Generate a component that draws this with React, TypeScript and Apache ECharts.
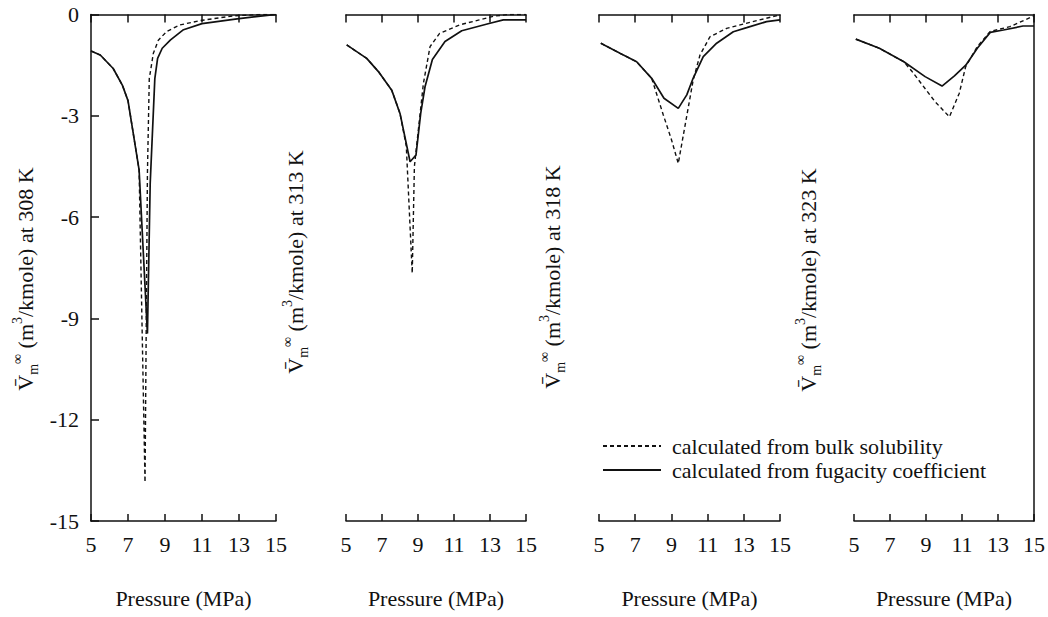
import React, { useEffect, useRef } from "react";
import * as echarts from "echarts";

// ---- data ----
const pressureTicks = [5, 7, 9, 11, 13, 15];
const volumeTicks = [0, -3, -6, -9, -12, -15];
const temperatures = ["308", "313", "318", "323"];
const seriesNames = [
  "calculated from bulk solubility",
  "calculated from fugacity coefficient",
];

// 308 K
const bulk308 = [
  [5, -1.08], [5.5, -1.2], [6.2, -1.6], [6.7, -2.1], [7.0, -2.55], [7.6, -4.6],
  [7.92, -13.85], [8.05, -4.7], [8.15, -1.9], [8.37, -1.15], [8.64, -0.76],
  [9.1, -0.5], [9.8, -0.31], [10.9, -0.18], [12.7, -0.04], [14.2, 0], [15, 0],
];
const fug308 = [
  [5, -1.08], [5.5, -1.2], [6.2, -1.6], [6.7, -2.1], [7.0, -2.55], [7.6, -4.6],
  [8.05, -9.45], [8.2, -5.0], [8.45, -1.9], [8.6, -1.3], [8.85, -1.0],
  [9.3, -0.75], [10.0, -0.45], [11.0, -0.27], [13.0, -0.12], [15, 0],
];
// 313 K
const bulk313 = [
  [5.04, -0.9], [6.15, -1.3], [6.8, -1.69], [7.54, -2.24], [8.0, -2.93],
  [8.35, -3.9], [8.68, -7.66], [8.8, -4.5], [9.3, -2.04], [9.67, -0.95],
  [10.2, -0.56], [11.3, -0.31], [12.4, -0.16], [13.2, -0.05], [14.0, 0], [15, 0],
];
const fug313 = [
  [5.04, -0.9], [6.15, -1.3], [6.8, -1.69], [7.54, -2.24], [8.0, -2.93],
  [8.56, -4.36], [8.89, -4.16], [9.15, -2.93], [9.39, -2.14], [9.8, -1.33],
  [10.5, -0.8], [11.43, -0.48], [13.0, -0.26], [13.74, -0.16], [15, -0.16],
];
// 318 K
const bulk318 = [
  [5.1, -0.85], [6.16, -1.15], [7.08, -1.4], [7.91, -1.89], [8.55, -2.97],
  [9.0, -3.7], [9.38, -4.41], [9.85, -3.0], [10.2, -1.95], [10.58, -1.2],
  [11.13, -0.66], [12.05, -0.41], [13.5, -0.21], [15, -0.01],
];
const fug318 = [
  [5.1, -0.85], [6.16, -1.15], [7.08, -1.4], [7.91, -1.89], [8.59, -2.48],
  [9.38, -2.78], [9.85, -2.38], [10.2, -1.89], [10.76, -1.25], [11.5, -0.85],
  [12.42, -0.51], [13.16, -0.39], [14.26, -0.21], [15, -0.16],
];
// 323 K
const bulk323 = [
  [5.1, -0.73], [6.41, -1.0], [7.77, -1.4], [8.23, -1.69], [9.5, -2.58],
  [10.3, -3.03], [10.85, -2.33], [11.2, -1.55], [11.85, -0.95], [12.57, -0.5],
  [13.66, -0.36], [15, -0.04],
];
const fug323 = [
  [5.1, -0.73], [6.41, -1.0], [7.77, -1.4], [8.95, -1.84], [9.89, -2.12],
  [10.58, -1.82], [11.21, -1.5], [11.85, -1.0], [12.57, -0.53], [13.3, -0.46],
  [14.39, -0.34], [15, -0.34],
];

const bulkData = [bulk308, bulk313, bulk318, bulk323];
const fugData = [fug308, fug313, fug318, fug323];

// ---- layout ----
const panelLefts = [91, 346, 599, 854];
const panelWidths = [185, 180, 181, 184];
const titleX = [25, 295, 552, 808];
const titleY = [279, 262, 277, 280];

export default function App() {
  const ref = useRef<HTMLDivElement>(null);
  useEffect(() => {
    document.body.style.margin = "0";
    const chart = echarts.init(ref.current!, null, { renderer: "svg" });
    const font = "Liberation Serif";
    const ink = "#111";
    const xMin = pressureTicks[0];
    const xMax = pressureTicks[pressureTicks.length - 1];
    const xInt = pressureTicks[1] - pressureTicks[0];
    const yMax = volumeTicks[0];
    const yMin = volumeTicks[volumeTicks.length - 1];
    const yInt = volumeTicks[0] - volumeTicks[1];

    const grids = panelLefts.map((l, i) => ({
      left: l,
      width: panelWidths[i],
      top: 14.5,
      height: 506.5,
      containLabel: false,
    }));

    const lineCommon = { color: ink, width: 1.5 };
    const xAxes: any[] = [];
    const yAxes: any[] = [];
    panelLefts.forEach((_, i) => {
      xAxes.push({
        type: "value",
        gridIndex: i,
        position: "bottom",
        min: xMin,
        max: xMax,
        interval: xInt,
        name: "Pressure (MPa)",
        nameLocation: "middle",
        nameGap: 66,
        nameTextStyle: { fontFamily: font, fontSize: 22, color: ink },
        axisLine: { show: true, onZero: false, lineStyle: lineCommon },
        axisTick: { show: true, inside: true, length: 7, lineStyle: lineCommon },
        axisLabel: { show: true, margin: 12, fontFamily: font, fontSize: 22, color: ink },
        splitLine: { show: false },
      });
      xAxes.push({
        type: "value",
        gridIndex: i,
        position: "top",
        min: xMin,
        max: xMax,
        interval: xInt,
        axisLine: { show: true, onZero: false, lineStyle: lineCommon },
        axisTick: { show: true, inside: true, length: 8, lineStyle: lineCommon },
        axisLabel: { show: false },
        splitLine: { show: false },
      });
      yAxes.push({
        type: "value",
        gridIndex: i,
        min: yMin,
        max: yMax,
        interval: yInt,
        show: i === 0 || i === 3,
        position: i === 3 ? "right" : "left",
        axisLine: { show: true, onZero: false, lineStyle: lineCommon },
        axisTick: { show: i === 0, inside: true, length: 8, lineStyle: lineCommon },
        axisLabel: { show: i === 0, margin: 12, fontFamily: font, fontSize: 22, color: ink },
        splitLine: { show: false },
      });
    });

    const series: any[] = [];
    panelLefts.forEach((_, i) => {
      series.push({
        type: "line",
        name: seriesNames[0],
        xAxisIndex: i * 2,
        yAxisIndex: i,
        data: bulkData[i],
        symbol: "none",
        lineStyle: { color: ink, width: 1.4, type: [4, 3] },
        itemStyle: { color: ink },
        z: 2,
      });
      series.push({
        type: "line",
        name: seriesNames[1],
        xAxisIndex: i * 2,
        yAxisIndex: i,
        data: fugData[i],
        symbol: "none",
        lineStyle: { color: ink, width: 1.7, type: "solid" },
        itemStyle: { color: ink },
        z: 3,
      });
    });

    const rich = {
      t: { fontFamily: font, fontSize: 22, fill: ink, lineHeight: 30 },
      v: { fontFamily: font, fontSize: 22, fill: ink, lineHeight: 30 },
      sub: { fontFamily: font, fontSize: 14, fill: ink, verticalAlign: "bottom", lineHeight: 16 },
      sup: { fontFamily: font, fontSize: 14, fill: ink, verticalAlign: "top", lineHeight: 16 },
    };

    const graphic = temperatures.map((t, i) => ({
      type: "text",
      x: titleX[i],
      y: titleY[i],
      rotation: Math.PI / 2,
      style: {
        text: `{v|V\u0304}{sub|m}{sup|\u221e}{t| (m}{sup|3}{t|/kmole) at ${t} K}`,
        rich,
        align: "center",
        verticalAlign: "middle",
        fill: ink,
        fontFamily: font,
        fontSize: 22,
      },
    }));

    chart.setOption({
      animation: false,
      backgroundColor: "#fff",
      grid: grids,
      xAxis: xAxes,
      yAxis: yAxes,
      series,
      graphic,
      legend: {
        data: seriesNames,
        orient: "vertical",
        left: 597,
        top: 430,
        itemWidth: 58,
        itemHeight: 12,
        itemGap: 2,
        selectedMode: false,
        itemStyle: { color: "rgba(0,0,0,0)", borderColor: "rgba(0,0,0,0)", borderWidth: 0 },
        textStyle: { fontFamily: font, fontSize: 22, color: ink, padding: [0, 0, 0, 6] },
      },
    });
    return () => chart.dispose();
  }, []);
  return <div ref={ref} style={{ width: 1048, height: 617 }} />;
}
